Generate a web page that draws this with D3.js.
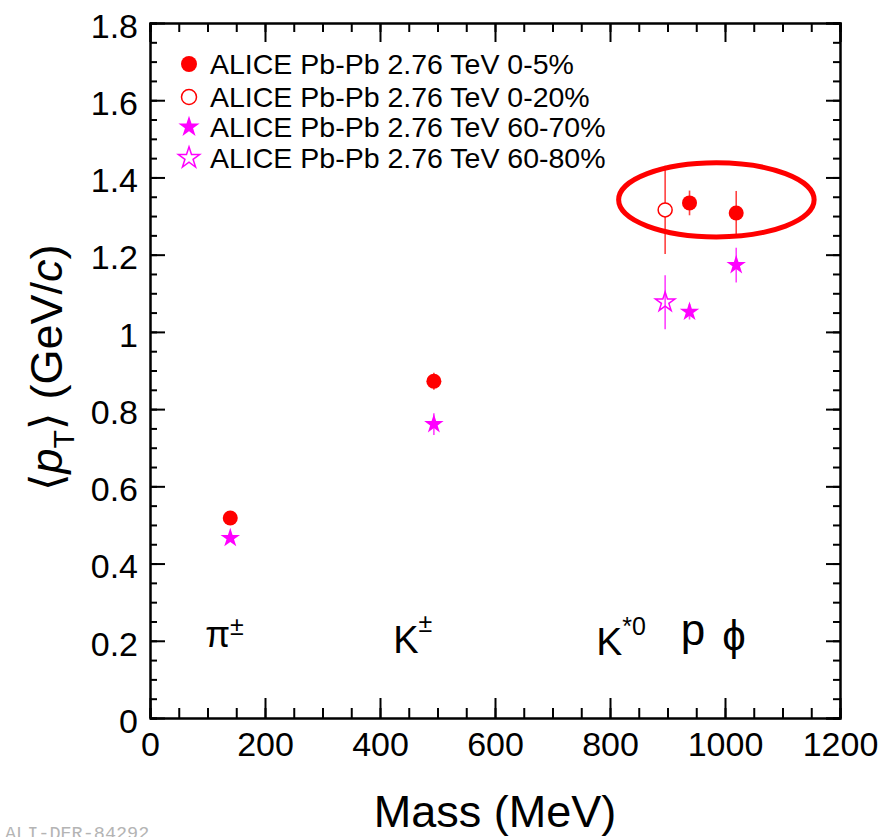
<!DOCTYPE html>
<html>
<head>
<meta charset="utf-8">
<script src="https://cdn.jsdelivr.net/npm/d3@7"></script>
<style>
  body { margin: 0; background: #fff; }
  svg { display: block; font-family: "Liberation Sans", Arial, Helvetica, sans-serif; }
</style>
</head>
<body>
<script>
//-- data --//
// 0-5% (filled circles)
const c05Mass = [139.6, 493.7, 938.3, 1019.5];
const c05Mean = [0.518, 0.872, 1.334, 1.308];
const c05Err  = [0.008, 0.022, 0.032, 0.057];
// 0-20% (open circle, K*0)
const c020Mass = [895.9];
const c020Mean = [1.316];
const c020Err  = [0.114];
// 60-70% (filled stars)
const p6070Mass = [139.6, 493.7, 938.3, 1019.5];
const p6070Mean = [0.466, 0.761, 1.052, 1.173];
const p6070Err  = [0.008, 0.028, 0.02, 0.045];
// 60-80% (open star, K*0)
const p6080Mass = [895.9];
const p6080Mean = [1.077];
const p6080Err  = [0.07];

const legendLabels = [
  "ALICE Pb-Pb 2.76 TeV 0-5%",
  "ALICE Pb-Pb 2.76 TeV 0-20%",
  "ALICE Pb-Pb 2.76 TeV 60-70%",
  "ALICE Pb-Pb 2.76 TeV 60-80%"
];

// particle names (main text + superscript), anchored in data units
const partMain = ["π", "K", "K", "p", "ϕ"];
const partSup  = ["±", "±", "*0", "", ""];
const partAtX  = [96, 423, 776, 923, 995];
const partAtY  = [0.184, 0.168, 0.163, 0.189, 0.176];

const xMajor = [0, 200, 400, 600, 800, 1000, 1200];
const yMajor = [0, 0.2, 0.4, 0.6, 0.8, 1, 1.2, 1.4, 1.6, 1.8];

// highlight ellipse around the heavy hadrons (data units)
const ringCx = 985, ringCy = 1.342, ringRx = 170, ringRy = 0.096;

//-- layout --//
const W = 880, H = 837;
const margin = {top: 23, right: 40, bottom: 119, left: 150};

const x = d3.scaleLinear().domain([0, 1200]).range([margin.left, W - margin.right]);
const y = d3.scaleLinear().domain([0, 1.8]).range([H - margin.bottom, margin.top]);

const RED = "#ff0000", MAG = "#ff00ff";

const svg = d3.select("body").append("svg")
    .attr("width", W)
    .attr("height", H);

//-- axes (ticks inward on all four sides) --//
const styleAxis = g => g
    .attr("font-family", null)
    .call(g => g.select(".domain").attr("stroke", "#000").attr("stroke-width", 2))
    .call(g => g.selectAll(".tick line").attr("stroke", "#000").attr("stroke-width", 2));

const minorX = d3.range(0, 1201, 50);
const minorY = d3.range(0, 1.801, 0.05);

svg.append("g")
    .attr("transform", `translate(0,${y(0)})`)
    .call(d3.axisBottom(x).tickValues(minorX).tickSize(-10).tickFormat(""))
    .call(styleAxis);
svg.append("g")
    .attr("transform", `translate(0,${y(0)})`)
    .call(d3.axisBottom(x).tickValues(xMajor).tickSizeInner(-20).tickSizeOuter(0).tickPadding(14)
        .tickFormat(d => String(d)))
    .call(styleAxis)
    .attr("font-size", 34);

svg.append("g")
    .attr("transform", `translate(0,${y(1.8)})`)
    .call(d3.axisTop(x).tickValues(minorX).tickSize(-9).tickFormat(""))
    .call(styleAxis);
svg.append("g")
    .attr("transform", `translate(0,${y(1.8)})`)
    .call(d3.axisTop(x).tickValues(xMajor).tickSize(-19).tickFormat(""))
    .call(styleAxis);

svg.append("g")
    .attr("transform", `translate(${x(0)},0)`)
    .call(d3.axisLeft(y).tickValues(minorY).tickSize(-7).tickFormat(""))
    .call(styleAxis);
svg.append("g")
    .attr("transform", `translate(${x(0)},0)`)
    .call(d3.axisLeft(y).tickValues(yMajor).tickSizeInner(-15).tickSizeOuter(0).tickPadding(12)
        .tickFormat(d => String(+d.toFixed(1))))
    .call(styleAxis)
    .attr("font-size", 34)
    .call(g => g.selectAll(".tick text").attr("dy", "0.42em"));

svg.append("g")
    .attr("transform", `translate(${x(1200)},0)`)
    .call(d3.axisRight(y).tickValues(minorY).tickSize(-7).tickFormat(""))
    .call(styleAxis);
svg.append("g")
    .attr("transform", `translate(${x(1200)},0)`)
    .call(d3.axisRight(y).tickValues(yMajor).tickSize(-14).tickFormat(""))
    .call(styleAxis);

//-- axis titles --//
svg.append("text")
    .attr("x", 495)
    .attr("y", 827)
    .attr("text-anchor", "middle")
    .attr("font-size", 45)
    .text("Mass (MeV)");

const yTitle = svg.append("text")
    .attr("transform", "translate(62,368) rotate(-90)")
    .attr("text-anchor", "middle")
    .attr("font-size", 45);
yTitle.append("tspan").text("⟨");
yTitle.append("tspan").attr("font-style", "italic").text("p");
yTitle.append("tspan").attr("font-size", 30).attr("dy", 12).text("T");
yTitle.append("tspan").attr("dy", -12).text("⟩ (GeV/");
yTitle.append("tspan").attr("font-style", "italic").text("c");
yTitle.append("tspan").text(")");

//-- particle labels --//
const labSize = [36, 38, 39, 44, 42];
const supShift = [-12, -21, -20, 0, 0];
partMain.forEach((t, i) => {
  const lab = svg.append("text")
      .attr("x", x(partAtX[i]))
      .attr("y", y(partAtY[i]))
      .attr("font-size", labSize[i]);
  lab.append("tspan").text(t);
  if (partSup[i]) lab.append("tspan")
      .attr("font-size", 25)
      .attr("dy", supShift[i])
      .text(partSup[i]);
});

//-- highlight ring --//
svg.append("ellipse")
    .attr("cx", x(ringCx))
    .attr("cy", y(ringCy))
    .attr("rx", x(ringRx) - x(0))
    .attr("ry", y(0) - y(ringRy))
    .attr("fill", "none")
    .attr("stroke", RED)
    .attr("stroke-width", 5);

//-- error bars + markers --//
const star = d3.symbol().type(d3.symbolStar).size(118);

function errBars(mass, mean, err, color) {
  svg.append("g")
      .attr("stroke", color)
      .attr("stroke-width", 1.6)
      .attr("stroke-opacity", 0.75)
      .selectAll("line")
      .data(mass.map((m, i) => ({m, v: mean[i], e: err[i]})))
      .join("line")
      .attr("x1", d => x(d.m)).attr("x2", d => x(d.m))
      .attr("y1", d => y(d.v - d.e)).attr("y2", d => y(d.v + d.e));
}

errBars(c05Mass, c05Mean, c05Err, RED);
errBars(c020Mass, c020Mean, c020Err, RED);
errBars(p6070Mass, p6070Mean, p6070Err, MAG);
errBars(p6080Mass, p6080Mean, p6080Err, MAG);

svg.append("g").selectAll("circle")
    .data(c05Mass.map((m, i) => ({m, v: c05Mean[i]})))
    .join("circle")
    .attr("cx", d => x(d.m)).attr("cy", d => y(d.v))
    .attr("r", 7.5)
    .attr("fill", RED);

svg.append("g").selectAll("circle")
    .data(c020Mass.map((m, i) => ({m, v: c020Mean[i]})))
    .join("circle")
    .attr("cx", d => x(d.m)).attr("cy", d => y(d.v))
    .attr("r", 7)
    .attr("fill", "#fff")
    .attr("stroke", RED)
    .attr("stroke-width", 1.5);

svg.append("g").selectAll("path")
    .data(p6070Mass.map((m, i) => ({m, v: p6070Mean[i]})))
    .join("path")
    .attr("transform", d => `translate(${x(d.m)},${y(d.v)})`)
    .attr("d", star)
    .attr("fill", MAG);

svg.append("g").selectAll("path")
    .data(p6080Mass.map((m, i) => ({m, v: p6080Mean[i]})))
    .join("path")
    .attr("transform", d => `translate(${x(d.m)},${y(d.v)})`)
    .attr("d", star)
    .attr("fill", "none")
    .attr("stroke", MAG)
    .attr("stroke-width", 1.5);

//-- legend --//
const legRows = [64, 97, 127, 158];
const leg = svg.append("g")
    .selectAll("g")
    .data(legendLabels)
    .join("g")
    .attr("transform", (d, i) => `translate(189,${legRows[i]})`);

leg.each(function(d, i) {
  const g = d3.select(this);
  if (i === 0) g.append("circle").attr("r", 8).attr("fill", RED);
  if (i === 1) g.append("circle").attr("r", 7.5).attr("fill", "none").attr("stroke", RED).attr("stroke-width", 1.5);
  if (i === 2) g.append("path").attr("d", d3.symbol().type(d3.symbolStar).size(140)()).attr("fill", MAG);
  if (i === 3) g.append("path").attr("d", d3.symbol().type(d3.symbolStar).size(140)())
      .attr("fill", "none").attr("stroke", MAG).attr("stroke-width", 1.5);
});

leg.append("text")
    .attr("x", 21)
    .attr("dy", "0.36em")
    .attr("font-size", 28.5)
    .text(d => d);

//-- figure id (cut by the lower edge, as in the original) --//
svg.append("text")
    .attr("x", 5)
    .attr("y", 839)
    .attr("font-family", "'Liberation Mono', 'DejaVu Sans Mono', monospace")
    .attr("font-size", 18.5)
    .attr("fill", "#b4b4b4")
    .text("ALI-DER-84292");
</script>
</body>
</html>
